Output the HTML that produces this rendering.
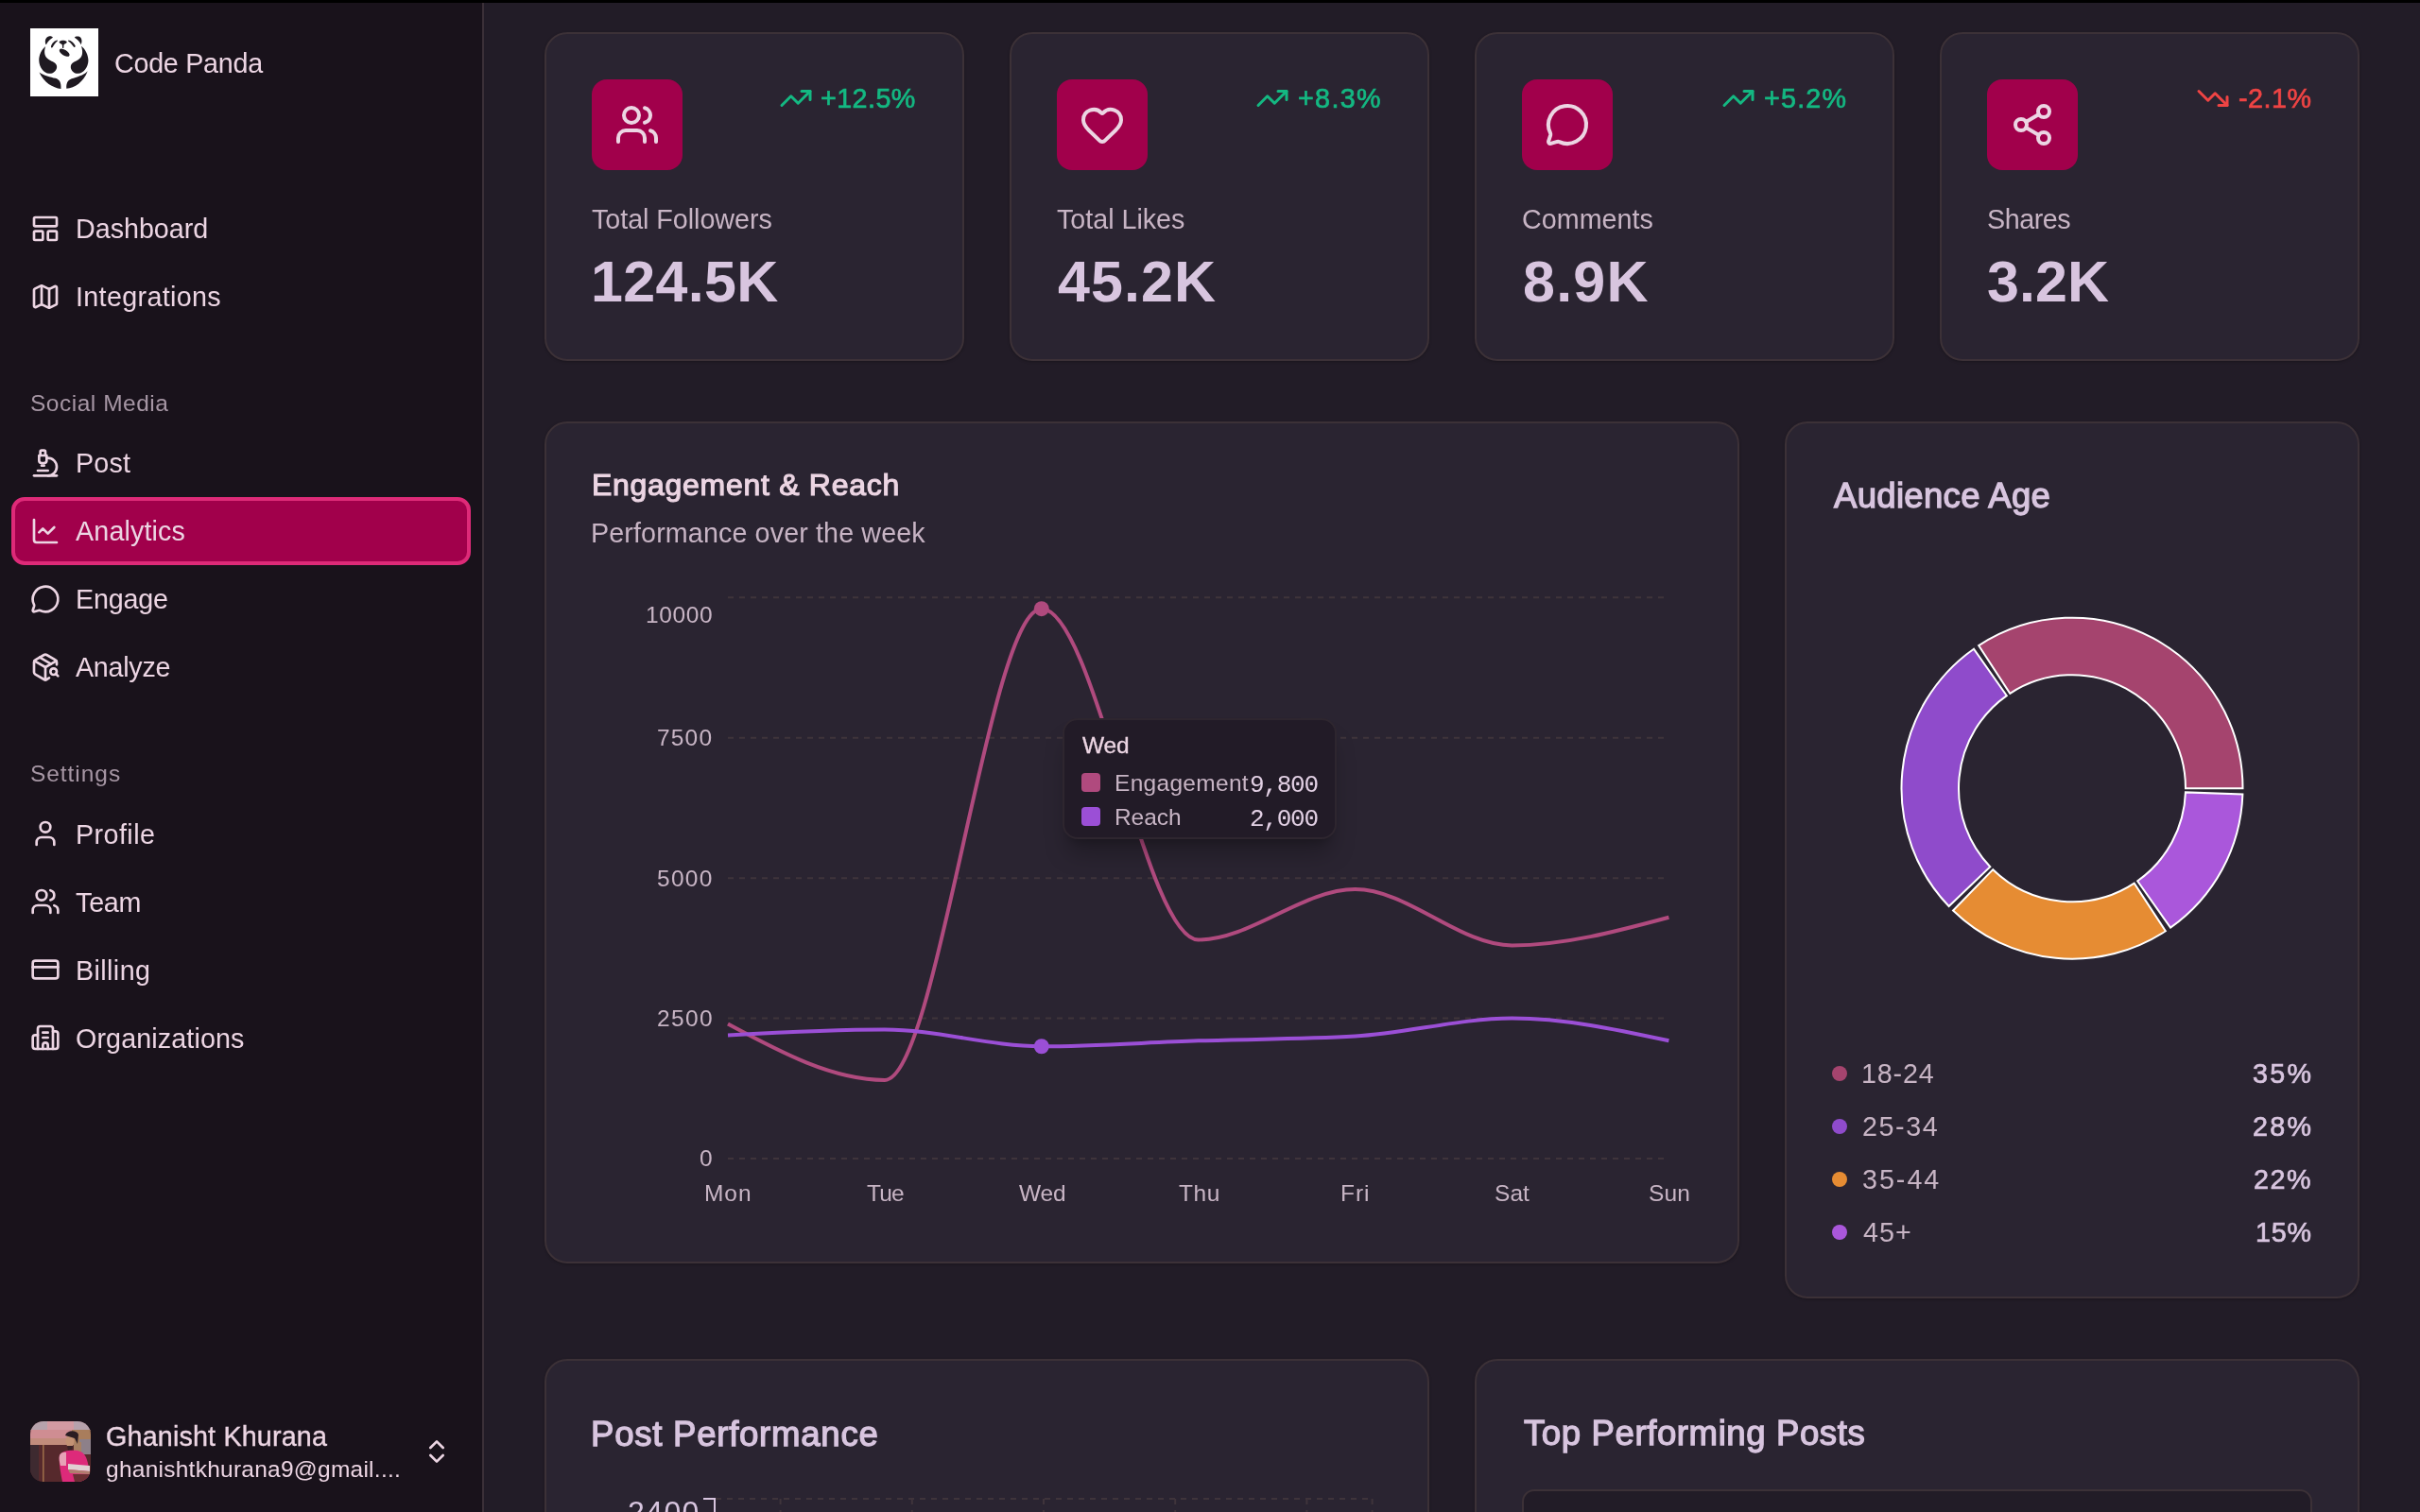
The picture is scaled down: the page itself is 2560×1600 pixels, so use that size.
<!DOCTYPE html><html lang="en"><head><meta charset="utf-8"><title>Analytics - Code Panda</title><style>
html,body{margin:0;padding:0;}
body{width:2560px;height:1600px;overflow:hidden;position:relative;background:#221c27;font-family:'Liberation Sans', Arial, sans-serif;}
.t{position:absolute;white-space:nowrap;will-change:transform;}
.b{position:absolute;}
.ic{position:absolute;overflow:visible;}
svg.abs{position:absolute;overflow:visible;}
@media (max-width:2000px){html{zoom:0.5;}}

</style></head><body>
<aside>
<div class="b" style="left:0px;top:0px;width:510px;height:1600px;background:#19121b;border-radius:0px;"></div>
<div class="b" style="left:510px;top:0px;width:2px;height:1600px;background:#3b3038;border-radius:0px;"></div>
<svg class="abs" style="left:32px;top:30px;width:72px;height:72px" viewBox="0 0 1512 1512"><rect width="1512" height="1512" fill="#ffffff"/><g fill="#1f1a21"><path d="M345,355 C318,290 338,200 410,180 C450,168 490,180 502,205 C440,240 385,300 355,362 Z"/><path d="M1128,360 C1160,290 1150,200 1075,180 C1035,170 995,180 983,205 C1045,240 1100,300 1128,360 Z"/><path d="M605,262 C540,270 482,330 462,398 C456,428 484,442 498,422 C522,370 560,318 608,280 Z"/><path d="M845,265 C905,272 962,322 1000,385 C1006,412 988,428 968,414 C930,360 890,312 845,288 Z"/><path d="M642,306 C642,278 700,268 728,268 C760,268 814,278 814,306 C814,332 772,346 746,360 L740,440 L716,440 L710,360 C686,346 642,332 642,306 Z"/><ellipse cx="760" cy="540" rx="128" ry="62" transform="rotate(32 760 540)"/><path d="M340,400 C250,470 190,600 195,720 C200,870 300,1000 420,1005 C530,1010 600,920 590,840 C580,770 490,740 420,700 C340,650 310,580 320,490 C325,450 335,420 340,400 Z"/><path d="M1135,395 C1230,470 1290,600 1290,720 C1285,870 1185,1000 1065,1005 C955,1010 890,920 900,840 C910,770 995,740 1065,700 C1145,650 1165,580 1155,490 C1150,450 1140,420 1135,395 Z"/><path d="M200,975 C300,1050 450,1080 560,1110 C650,1140 690,1200 682,1345 C500,1320 300,1200 200,975 Z"/><path d="M1275,950 C1180,1050 1030,1080 920,1120 C830,1150 795,1230 805,1340 C990,1320 1180,1200 1275,950 Z"/></g></svg>
<span class="t" style="left:120.50px;top:53px;font-size:28.7px;line-height:28.7px;color:#ecd5e3;font-weight:400;font-family:'Liberation Sans', Arial, sans-serif;letter-spacing:-0.261px;">Code Panda</span>
<nav>
<svg class="ic" style="left:32px;top:226.0px;width:32px;height:32px;" viewBox="0 0 24 24" fill="none" stroke="#ecd5e3" stroke-width="2" stroke-linecap="round" stroke-linejoin="round"><rect width="18" height="7" x="3" y="3" rx="1"/><rect width="7" height="7" x="3" y="14" rx="1"/><rect width="7" height="7" x="14" y="14" rx="1"/></svg>
<span class="t" style="left:80.00px;top:228px;font-size:28.7px;line-height:28.7px;color:#ecd5e3;font-weight:400;font-family:'Liberation Sans', Arial, sans-serif;letter-spacing:-0.011px;">Dashboard</span>
<svg class="ic" style="left:32px;top:298.0px;width:32px;height:32px;" viewBox="0 0 24 24" fill="none" stroke="#ecd5e3" stroke-width="2" stroke-linecap="round" stroke-linejoin="round"><path d="M14.106 5.553a2 2 0 0 0 1.788 0l3.659-1.83A1 1 0 0 1 21 4.619v12.764a1 1 0 0 1-.553.894l-4.553 2.277a2 2 0 0 1-1.788 0l-4.212-2.106a2 2 0 0 0-1.788 0l-3.659 1.83A1 1 0 0 1 3 19.381V6.618a1 1 0 0 1 .553-.894l4.553-2.277a2 2 0 0 1 1.788 0z"/><path d="M15 5.764v15"/><path d="M9 3.236v15"/></svg>
<span class="t" style="left:80.00px;top:300px;font-size:28.7px;line-height:28.7px;color:#ecd5e3;font-weight:400;font-family:'Liberation Sans', Arial, sans-serif;letter-spacing:0.340px;">Integrations</span>
<span class="t" style="left:31.70px;top:415px;font-size:24.5px;line-height:24.5px;color:#a696a4;font-weight:400;font-family:'Liberation Sans', Arial, sans-serif;letter-spacing:0.515px;">Social Media</span>
<svg class="ic" style="left:32px;top:473.8px;width:32px;height:32px;" viewBox="0 0 24 24" fill="none" stroke="#ecd5e3" stroke-width="2" stroke-linecap="round" stroke-linejoin="round"><path d="M6 18h8"/><path d="M3 22h18"/><path d="M14 22a7 7 0 1 0 0-14h-1"/><path d="M9 14h2"/><path d="M9 12a2 2 0 0 1-2-2V6h6v4a2 2 0 0 1-2 2Z"/><path d="M12 6V3a1 1 0 0 0-1-1H9a1 1 0 0 0-1 1v3"/></svg>
<span class="t" style="left:80.00px;top:476px;font-size:28.7px;line-height:28.7px;color:#ecd5e3;font-weight:400;font-family:'Liberation Sans', Arial, sans-serif;letter-spacing:0.189px;">Post</span>
<div class="b" style="left:12px;top:526px;width:486px;height:72px;background:#a1004b;border-radius:14px;border:4px solid #de2a78;box-sizing:border-box;"></div>
<svg class="ic" style="left:32px;top:545.8000000000001px;width:32px;height:32px;" viewBox="0 0 24 24" fill="none" stroke="#ecd5e3" stroke-width="2" stroke-linecap="round" stroke-linejoin="round"><path d="M3 3v16a2 2 0 0 0 2 2h16"/><path d="m19 9-5 5-4-4-3 3"/></svg>
<span class="t" style="left:80.00px;top:548px;font-size:28.7px;line-height:28.7px;color:#ecd5e3;font-weight:400;font-family:'Liberation Sans', Arial, sans-serif;letter-spacing:0.144px;">Analytics</span>
<svg class="ic" style="left:32px;top:617.8000000000001px;width:32px;height:32px;" viewBox="0 0 24 24" fill="none" stroke="#ecd5e3" stroke-width="2" stroke-linecap="round" stroke-linejoin="round"><path d="M2.992 16.342a2 2 0 0 1 .094 1.167l-1.065 3.29a1 1 0 0 0 1.236 1.168l3.413-.998a2 2 0 0 1 1.099.092 10 10 0 1 0-4.777-4.719"/></svg>
<span class="t" style="left:80.00px;top:620px;font-size:28.7px;line-height:28.7px;color:#ecd5e3;font-weight:400;font-family:'Liberation Sans', Arial, sans-serif;letter-spacing:-0.191px;">Engage</span>
<svg class="ic" style="left:32px;top:689.8000000000001px;width:32px;height:32px;" viewBox="0 0 24 24" fill="none" stroke="#ecd5e3" stroke-width="2" stroke-linecap="round" stroke-linejoin="round"><path d="M21 10V8a2 2 0 0 0-1-1.73l-7-4a2 2 0 0 0-2 0l-7 4A2 2 0 0 0 3 8v8a2 2 0 0 0 1 1.73l7 4a2 2 0 0 0 2 0l2-1.14"/><path d="m7.5 4.27 9 5.15"/><polyline points="3.29 7 12 12 20.71 7"/><line x1="12" x2="12" y1="22" y2="12"/><circle cx="18.5" cy="15.5" r="2.5"/><path d="M20.27 17.27 22 19"/></svg>
<span class="t" style="left:80.00px;top:692px;font-size:28.7px;line-height:28.7px;color:#ecd5e3;font-weight:400;font-family:'Liberation Sans', Arial, sans-serif;letter-spacing:-0.267px;">Analyze</span>
<span class="t" style="left:32.20px;top:807px;font-size:24.5px;line-height:24.5px;color:#a696a4;font-weight:400;font-family:'Liberation Sans', Arial, sans-serif;letter-spacing:0.946px;">Settings</span>
<svg class="ic" style="left:32px;top:866.4px;width:32px;height:32px;" viewBox="0 0 24 24" fill="none" stroke="#ecd5e3" stroke-width="2" stroke-linecap="round" stroke-linejoin="round"><path d="M19 21v-2a4 4 0 0 0-4-4H9a4 4 0 0 0-4 4v2"/><circle cx="12" cy="7" r="4"/></svg>
<span class="t" style="left:80.00px;top:869px;font-size:28.7px;line-height:28.7px;color:#ecd5e3;font-weight:400;font-family:'Liberation Sans', Arial, sans-serif;letter-spacing:0.440px;">Profile</span>
<svg class="ic" style="left:32px;top:938.4px;width:32px;height:32px;" viewBox="0 0 24 24" fill="none" stroke="#ecd5e3" stroke-width="2" stroke-linecap="round" stroke-linejoin="round"><path d="M16 21v-2a4 4 0 0 0-4-4H6a4 4 0 0 0-4 4v2"/><circle cx="9" cy="7" r="4"/><path d="M22 21v-2a4 4 0 0 0-3-3.87"/><path d="M16 3.13a4 4 0 0 1 0 7.75"/></svg>
<span class="t" style="left:80.00px;top:941px;font-size:28.7px;line-height:28.7px;color:#ecd5e3;font-weight:400;font-family:'Liberation Sans', Arial, sans-serif;letter-spacing:-0.217px;">Team</span>
<svg class="ic" style="left:32px;top:1010.4px;width:32px;height:32px;" viewBox="0 0 24 24" fill="none" stroke="#ecd5e3" stroke-width="2" stroke-linecap="round" stroke-linejoin="round"><rect width="20" height="14" x="2" y="5" rx="2"/><line x1="2" x2="22" y1="10" y2="10"/></svg>
<span class="t" style="left:80.00px;top:1013px;font-size:28.7px;line-height:28.7px;color:#ecd5e3;font-weight:400;font-family:'Liberation Sans', Arial, sans-serif;letter-spacing:0.403px;">Billing</span>
<svg class="ic" style="left:32px;top:1082.3999999999999px;width:32px;height:32px;" viewBox="0 0 24 24" fill="none" stroke="#ecd5e3" stroke-width="2" stroke-linecap="round" stroke-linejoin="round"><path d="M10 12h4"/><path d="M10 8h4"/><path d="M14 21v-3a2 2 0 0 0-4 0v3"/><path d="M6 10H4a2 2 0 0 0-2 2v7a2 2 0 0 0 2 2h16a2 2 0 0 0 2-2V9a2 2 0 0 0-2-2h-2"/><path d="M6 21V5a2 2 0 0 1 2-2h8a2 2 0 0 1 2 2v16"/></svg>
<span class="t" style="left:80.00px;top:1085px;font-size:28.7px;line-height:28.7px;color:#ecd5e3;font-weight:400;font-family:'Liberation Sans', Arial, sans-serif;letter-spacing:0.120px;">Organizations</span>
</nav>
<svg class="abs" style="left:32px;top:1504px;width:64px;height:64px" viewBox="0 0 64 64"><defs><clipPath id="av"><rect width="64" height="64" rx="14"/></clipPath></defs><g clip-path="url(#av)"><rect width="64" height="64" fill="#56292c"/><rect width="64" height="10" fill="#b6a2ac"/><rect x="18" y="0" width="28" height="10" fill="#d29aa2"/><rect x="0" y="9" width="46" height="10" fill="#cf8d92"/><rect x="0" y="18" width="46" height="7" fill="#c28c7c"/><rect x="44" y="9" width="20" height="13" fill="#a97d5c"/><rect x="52" y="19" width="12" height="16" fill="#8d8089"/><rect x="46" y="22" width="8" height="12" fill="#a88062"/><rect x="0" y="25" width="9" height="39" fill="#3e2a30"/><rect x="13" y="25" width="1.6" height="39" fill="#9a6a48"/><ellipse cx="42" cy="21" rx="4.6" ry="6.5" fill="#c39274"/><path d="M37,15 C39,9 49,9 51,14 L50,24 L47,18 Z" fill="#2b1d22"/><path d="M39,26 L45,26 L44,31 L40,31 Z" fill="#3a2226"/><path d="M31,36 C33,31 42,30 50,31 C58,33 62,38 63,64 L34,64 C32,54 30,44 31,36 Z" fill="#dd2a7a"/><path d="M31,36 C32,33 36,32 38,33 L38,47 L32,47 C31,43 30,39 31,36 Z" fill="#e6a2b6"/><path d="M40,45 L63,47 L63,53 L40,51 Z" fill="#e0d0d2"/><path d="M40,51 L63,53 L63,56 L42,55 Z" fill="#b07d6e"/><path d="M45,56 L64,56 L64,64 L47,64 Z" fill="#6a2f33"/></g></svg>
<span class="t" style="left:112.00px;top:1506px;font-size:28.7px;line-height:28.7px;color:#ecd5e3;font-weight:400;font-family:'Liberation Sans', Arial, sans-serif;letter-spacing:0.180px;-webkit-text-stroke:0.35px #ecd5e3;">Ghanisht Khurana</span>
<span class="t" style="left:112.00px;top:1543px;font-size:24.5px;line-height:24.5px;color:#ecd5e3;font-weight:400;font-family:'Liberation Sans', Arial, sans-serif;letter-spacing:0.255px;">ghanishtkhurana9@gmail....</span>
<svg class="ic" style="left:446px;top:1520px;width:32px;height:32px;" viewBox="0 0 24 24" fill="none" stroke="#ecd5e3" stroke-width="2" stroke-linecap="round" stroke-linejoin="round"><path d="m7 15 5 5 5-5"/><path d="m7 9 5-5 5 5"/></svg>
</aside>
<main>
<div class="b" style="left:0px;top:0px;width:2560px;height:3px;background:#000;border-radius:0px;"></div>
<section>
<div class="b" style="left:576px;top:34px;width:444px;height:348px;background:#2a2431;border-radius:24px;border:2px solid #3c3137;box-sizing:border-box;box-shadow:0 1px 3px rgba(0,0,0,0.25);"></div>
<div class="b" style="left:626px;top:84px;width:96px;height:96px;background:#a1004b;border-radius:16px;"></div>
<svg class="ic" style="left:650px;top:108px;width:48px;height:48px;" viewBox="0 0 24 24" fill="none" stroke="#ecd5e3" stroke-width="2" stroke-linecap="round" stroke-linejoin="round"><path d="M16 21v-2a4 4 0 0 0-4-4H6a4 4 0 0 0-4 4v2"/><circle cx="9" cy="7" r="4"/><path d="M22 21v-2a4 4 0 0 0-3-3.87"/><path d="M16 3.13a4 4 0 0 1 0 7.75"/></svg>
<svg class="ic" style="left:824.1px;top:86px;width:36px;height:36px;" viewBox="0 0 24 24" fill="none" stroke="#14b882" stroke-width="2" stroke-linecap="round" stroke-linejoin="round"><polyline points="22 7 13.5 15.5 8.5 10.5 2 17"/><polyline points="16 7 22 7 22 13"/></svg>
<span class="t" style="left:868.20px;top:90px;font-size:28.7px;line-height:28.7px;color:#14b882;font-weight:400;font-family:'Liberation Sans', Arial, sans-serif;letter-spacing:0.443px;-webkit-text-stroke:0.70px #14b882;">+12.5%</span>
<span class="t" style="left:626.00px;top:218px;font-size:28.7px;line-height:28.7px;color:#c7b4c4;font-weight:400;font-family:'Liberation Sans', Arial, sans-serif;letter-spacing:-0.034px;">Total Followers</span>
<span class="t" style="left:624.70px;top:268px;font-size:61px;line-height:61px;color:#d8c5df;font-weight:700;font-family:'Liberation Sans', Arial, sans-serif;letter-spacing:0.330px;">124.5K</span>
</section>
<section>
<div class="b" style="left:1068px;top:34px;width:444px;height:348px;background:#2a2431;border-radius:24px;border:2px solid #3c3137;box-sizing:border-box;box-shadow:0 1px 3px rgba(0,0,0,0.25);"></div>
<div class="b" style="left:1118px;top:84px;width:96px;height:96px;background:#a1004b;border-radius:16px;"></div>
<svg class="ic" style="left:1142px;top:108px;width:48px;height:48px;" viewBox="0 0 24 24" fill="none" stroke="#ecd5e3" stroke-width="2" stroke-linecap="round" stroke-linejoin="round"><path d="M2 9.5a5.5 5.5 0 0 1 9.591-3.676.56.56 0 0 0 .818 0A5.49 5.49 0 0 1 22 9.5c0 2.29-1.5 4-3 5.5l-5.492 5.313a2 2 0 0 1-3 .019L5 15c-1.5-1.5-3-3.2-3-5.5"/></svg>
<svg class="ic" style="left:1328.2px;top:86px;width:36px;height:36px;" viewBox="0 0 24 24" fill="none" stroke="#14b882" stroke-width="2" stroke-linecap="round" stroke-linejoin="round"><polyline points="22 7 13.5 15.5 8.5 10.5 2 17"/><polyline points="16 7 22 7 22 13"/></svg>
<span class="t" style="left:1373.20px;top:90px;font-size:28.7px;line-height:28.7px;color:#14b882;font-weight:400;font-family:'Liberation Sans', Arial, sans-serif;letter-spacing:1.342px;-webkit-text-stroke:0.70px #14b882;">+8.3%</span>
<span class="t" style="left:1118.00px;top:218px;font-size:28.7px;line-height:28.7px;color:#c7b4c4;font-weight:400;font-family:'Liberation Sans', Arial, sans-serif;letter-spacing:-0.019px;">Total Likes</span>
<span class="t" style="left:1119.10px;top:268px;font-size:61px;line-height:61px;color:#d8c5df;font-weight:700;font-family:'Liberation Sans', Arial, sans-serif;letter-spacing:1.069px;">45.2K</span>
</section>
<section>
<div class="b" style="left:1560px;top:34px;width:444px;height:348px;background:#2a2431;border-radius:24px;border:2px solid #3c3137;box-sizing:border-box;box-shadow:0 1px 3px rgba(0,0,0,0.25);"></div>
<div class="b" style="left:1610px;top:84px;width:96px;height:96px;background:#a1004b;border-radius:16px;"></div>
<svg class="ic" style="left:1634px;top:108px;width:48px;height:48px;" viewBox="0 0 24 24" fill="none" stroke="#ecd5e3" stroke-width="2" stroke-linecap="round" stroke-linejoin="round"><path d="M2.992 16.342a2 2 0 0 1 .094 1.167l-1.065 3.29a1 1 0 0 0 1.236 1.168l3.413-.998a2 2 0 0 1 1.099.092 10 10 0 1 0-4.777-4.719"/></svg>
<svg class="ic" style="left:1821.2px;top:86px;width:36px;height:36px;" viewBox="0 0 24 24" fill="none" stroke="#14b882" stroke-width="2" stroke-linecap="round" stroke-linejoin="round"><polyline points="22 7 13.5 15.5 8.5 10.5 2 17"/><polyline points="16 7 22 7 22 13"/></svg>
<span class="t" style="left:1865.70px;top:90px;font-size:28.7px;line-height:28.7px;color:#14b882;font-weight:400;font-family:'Liberation Sans', Arial, sans-serif;letter-spacing:1.217px;-webkit-text-stroke:0.70px #14b882;">+5.2%</span>
<span class="t" style="left:1610.00px;top:218px;font-size:28.7px;line-height:28.7px;color:#c7b4c4;font-weight:400;font-family:'Liberation Sans', Arial, sans-serif;letter-spacing:0.022px;">Comments</span>
<span class="t" style="left:1610.60px;top:268px;font-size:61px;line-height:61px;color:#d8c5df;font-weight:700;font-family:'Liberation Sans', Arial, sans-serif;letter-spacing:1.234px;">8.9K</span>
</section>
<section>
<div class="b" style="left:2052px;top:34px;width:444px;height:348px;background:#2a2431;border-radius:24px;border:2px solid #3c3137;box-sizing:border-box;box-shadow:0 1px 3px rgba(0,0,0,0.25);"></div>
<div class="b" style="left:2102px;top:84px;width:96px;height:96px;background:#a1004b;border-radius:16px;"></div>
<svg class="ic" style="left:2126px;top:108px;width:48px;height:48px;" viewBox="0 0 24 24" fill="none" stroke="#ecd5e3" stroke-width="2" stroke-linecap="round" stroke-linejoin="round"><circle cx="18" cy="5" r="3"/><circle cx="6" cy="12" r="3"/><circle cx="18" cy="19" r="3"/><line x1="8.59" x2="15.42" y1="13.51" y2="17.49"/><line x1="15.41" x2="8.59" y1="6.51" y2="10.49"/></svg>
<svg class="ic" style="left:2323.3px;top:86px;width:36px;height:36px;" viewBox="0 0 24 24" fill="none" stroke="#ef4444" stroke-width="2" stroke-linecap="round" stroke-linejoin="round"><polyline points="22 17 13.5 8.5 8.5 13.5 2 7"/><polyline points="16 17 22 17 22 11"/></svg>
<span class="t" style="left:2367.80px;top:90px;font-size:28.7px;line-height:28.7px;color:#ef4444;font-weight:400;font-family:'Liberation Sans', Arial, sans-serif;letter-spacing:0.492px;-webkit-text-stroke:0.70px #ef4444;">-2.1%</span>
<span class="t" style="left:2102.00px;top:218px;font-size:28.7px;line-height:28.7px;color:#c7b4c4;font-weight:400;font-family:'Liberation Sans', Arial, sans-serif;letter-spacing:-0.470px;">Shares</span>
<span class="t" style="left:2101.90px;top:268px;font-size:61px;line-height:61px;color:#d8c5df;font-weight:700;font-family:'Liberation Sans', Arial, sans-serif;letter-spacing:0.067px;">3.2K</span>
</section>
<section>
<div class="b" style="left:576px;top:446px;width:1264px;height:891px;background:#2a2431;border-radius:24px;border:2px solid #3c3137;box-sizing:border-box;box-shadow:0 1px 3px rgba(0,0,0,0.25);"></div>
<span class="t" style="left:625.50px;top:497px;font-size:32px;line-height:32px;color:#ecd5e3;font-weight:400;font-family:'Liberation Sans', Arial, sans-serif;letter-spacing:0.712px;-webkit-text-stroke:1.15px #ecd5e3;">Engagement &amp; Reach</span>
<span class="t" style="left:625.00px;top:550px;font-size:28.7px;line-height:28.7px;color:#c7b4c4;font-weight:400;font-family:'Liberation Sans', Arial, sans-serif;letter-spacing:0.119px;">Performance over the week</span>
<svg class="abs" style="left:0;top:0;width:2560px;height:1600px;pointer-events:none" viewBox="0 0 2560 1600"><line x1="770" x2="1766" y1="1226.00" y2="1226.00" stroke="#3f343b" stroke-width="2" stroke-dasharray="6 6"/><line x1="770" x2="1766" y1="1077.58" y2="1077.58" stroke="#3f343b" stroke-width="2" stroke-dasharray="6 6"/><line x1="770" x2="1766" y1="929.15" y2="929.15" stroke="#3f343b" stroke-width="2" stroke-dasharray="6 6"/><line x1="770" x2="1766" y1="780.73" y2="780.73" stroke="#3f343b" stroke-width="2" stroke-dasharray="6 6"/><line x1="770" x2="1766" y1="632.30" y2="632.30" stroke="#3f343b" stroke-width="2" stroke-dasharray="6 6"/><path d="M770.00,1083.51C825.30,1113.20,880.60,1142.88,935.90,1142.88C991.20,1142.88,1046.50,644.17,1101.80,644.17C1157.10,644.17,1212.40,994.46,1267.70,994.46C1323.00,994.46,1378.30,941.02,1433.60,941.02C1488.90,941.02,1544.20,1000.39,1599.50,1000.39C1654.80,1000.39,1710.10,985.55,1765.40,970.71" fill="none" stroke="#b04a7e" stroke-width="4"/><path d="M770.00,1095.39C825.30,1092.42,880.60,1089.45,935.90,1089.45C991.20,1089.45,1046.50,1107.26,1101.80,1107.26C1157.10,1107.26,1212.40,1103.10,1267.70,1101.32C1323.00,1099.54,1378.30,1099.74,1433.60,1096.57C1488.90,1093.41,1544.20,1077.58,1599.50,1077.58C1654.80,1077.58,1710.10,1089.45,1765.40,1101.32" fill="none" stroke="#9b4fd6" stroke-width="4"/><circle cx="1101.80" cy="644.17" r="8" fill="#b04a7e"/><circle cx="1101.80" cy="1107.26" r="8" fill="#9b4fd6"/></svg>
<span class="t" style="left:682.60px;top:639px;font-size:24.5px;line-height:24.5px;color:#c7b4c4;font-weight:400;font-family:'Liberation Sans', Arial, sans-serif;letter-spacing:0.649px;">10000</span>
<span class="t" style="left:695.30px;top:769px;font-size:24.5px;line-height:24.5px;color:#c7b4c4;font-weight:400;font-family:'Liberation Sans', Arial, sans-serif;letter-spacing:1.174px;">7500</span>
<span class="t" style="left:695.00px;top:918px;font-size:24.5px;line-height:24.5px;color:#c7b4c4;font-weight:400;font-family:'Liberation Sans', Arial, sans-serif;letter-spacing:1.274px;">5000</span>
<span class="t" style="left:694.60px;top:1066px;font-size:24.5px;line-height:24.5px;color:#c7b4c4;font-weight:400;font-family:'Liberation Sans', Arial, sans-serif;letter-spacing:1.408px;">2500</span>
<span class="t" style="left:739.70px;top:1214px;font-size:24.5px;line-height:24.5px;color:#c7b4c4;font-weight:400;font-family:'Liberation Sans', Arial, sans-serif;">0</span>
<span class="t" style="left:744.75px;top:1251px;font-size:24.5px;line-height:24.5px;color:#c7b4c4;font-weight:400;font-family:'Liberation Sans', Arial, sans-serif;letter-spacing:0.933px;">Mon</span>
<span class="t" style="left:916.75px;top:1251px;font-size:24.5px;line-height:24.5px;color:#c7b4c4;font-weight:400;font-family:'Liberation Sans', Arial, sans-serif;letter-spacing:-0.791px;">Tue</span>
<span class="t" style="left:1077.50px;top:1251px;font-size:24.5px;line-height:24.5px;color:#c7b4c4;font-weight:400;font-family:'Liberation Sans', Arial, sans-serif;letter-spacing:-0.154px;">Wed</span>
<span class="t" style="left:1247.15px;top:1251px;font-size:24.5px;line-height:24.5px;color:#c7b4c4;font-weight:400;font-family:'Liberation Sans', Arial, sans-serif;letter-spacing:0.554px;">Thu</span>
<span class="t" style="left:1418.35px;top:1251px;font-size:24.5px;line-height:24.5px;color:#c7b4c4;font-weight:400;font-family:'Liberation Sans', Arial, sans-serif;letter-spacing:0.988px;">Fri</span>
<span class="t" style="left:1581.15px;top:1251px;font-size:24.5px;line-height:24.5px;color:#c7b4c4;font-weight:400;font-family:'Liberation Sans', Arial, sans-serif;letter-spacing:0.066px;">Sat</span>
<span class="t" style="left:1743.80px;top:1251px;font-size:24.5px;line-height:24.5px;color:#c7b4c4;font-weight:400;font-family:'Liberation Sans', Arial, sans-serif;letter-spacing:0.116px;">Sun</span>
<div class="b" style="left:1124px;top:760px;width:290px;height:128px;background:#221b27;border-radius:16px;border:2px solid #2e262f;box-sizing:border-box;box-shadow:0 20px 25px -5px rgba(0,0,0,0.25),0 8px 10px -6px rgba(0,0,0,0.2);"></div>
<span class="t" style="left:1145.30px;top:777px;font-size:24.5px;line-height:24.5px;color:#ecd5e3;font-weight:400;font-family:'Liberation Sans', Arial, sans-serif;letter-spacing:-0.204px;-webkit-text-stroke:0.3px #ecd5e3;">Wed</span>
<div class="b" style="left:1144px;top:818px;width:20px;height:20px;background:#b04a7e;border-radius:4px;"></div>
<div class="b" style="left:1144px;top:854px;width:20px;height:20px;background:#9b4fd6;border-radius:4px;"></div>
<span class="t" style="left:1179.00px;top:817px;font-size:24.5px;line-height:24.5px;color:#c7b4c4;font-weight:400;font-family:'Liberation Sans', Arial, sans-serif;letter-spacing:0.297px;">Engagement</span>
<span class="t" style="left:1179.00px;top:853px;font-size:24.5px;line-height:24.5px;color:#c7b4c4;font-weight:400;font-family:'Liberation Sans', Arial, sans-serif;letter-spacing:-0.074px;">Reach</span>
<span class="t" style="left:1321.60px;top:818px;font-size:26px;line-height:26px;color:#e2d0e4;font-weight:400;font-family:'Liberation Mono', 'DejaVu Sans Mono', monospace;letter-spacing:-1.253px;">9,800</span>
<span class="t" style="left:1321.60px;top:854px;font-size:26px;line-height:26px;color:#e2d0e4;font-weight:400;font-family:'Liberation Mono', 'DejaVu Sans Mono', monospace;letter-spacing:-1.253px;">2,000</span>
</section>
<section>
<div class="b" style="left:1888px;top:446px;width:608px;height:928px;background:#2a2431;border-radius:24px;border:2px solid #3c3137;box-sizing:border-box;box-shadow:0 1px 3px rgba(0,0,0,0.25);"></div>
<span class="t" style="left:1939.60px;top:507px;font-size:36.6px;line-height:36.6px;color:#d8c5df;font-weight:400;font-family:'Liberation Sans', Arial, sans-serif;letter-spacing:0.288px;-webkit-text-stroke:1.30px #d8c5df;">Audience Age</span>
<svg class="abs" style="left:0;top:0;width:2560px;height:1600px;pointer-events:none" viewBox="0 0 2560 1600"><path d="M2372.50,834.20A180.5,180.5 0 0 0 2093.16,683.16L2126.29,733.79A120.0,120.0 0 0 1 2312.00,834.20Z" fill="#a5446e" stroke="#ffffff" stroke-width="2"/><path d="M2087.95,686.71A180.5,180.5 0 0 0 2061.64,959.04L2105.33,917.20A120.0,120.0 0 0 1 2122.83,736.14Z" fill="#8f4bcb" stroke="#ffffff" stroke-width="2"/><path d="M2066.07,963.51A180.5,180.5 0 0 0 2290.84,985.24L2257.71,934.61A120.0,120.0 0 0 1 2108.28,920.17Z" fill="#e68c33" stroke="#ffffff" stroke-width="2"/><path d="M2296.05,981.69A180.5,180.5 0 0 0 2372.39,840.50L2311.93,838.39A120.0,120.0 0 0 1 2261.17,932.26Z" fill="#aa57db" stroke="#ffffff" stroke-width="2"/></svg>
<div class="b" style="left:1938px;top:1128.3px;width:16px;height:16px;background:#a5446e;border-radius:8px;"></div>
<span class="t" style="left:1969.30px;top:1122px;font-size:28.7px;line-height:28.7px;color:#c7b4c4;font-weight:400;font-family:'Liberation Sans', Arial, sans-serif;letter-spacing:0.821px;">18-24</span>
<span class="t" style="left:2382.90px;top:1122px;font-size:28.7px;line-height:28.7px;color:#d8c5df;font-weight:400;font-family:'Liberation Sans', Arial, sans-serif;letter-spacing:2.245px;-webkit-text-stroke:0.70px #d8c5df;">35%</span>
<div class="b" style="left:1938px;top:1184.3px;width:16px;height:16px;background:#8f4bcb;border-radius:8px;"></div>
<span class="t" style="left:1970.30px;top:1178px;font-size:28.7px;line-height:28.7px;color:#c7b4c4;font-weight:400;font-family:'Liberation Sans', Arial, sans-serif;letter-spacing:1.571px;">25-34</span>
<span class="t" style="left:2382.90px;top:1178px;font-size:28.7px;line-height:28.7px;color:#d8c5df;font-weight:400;font-family:'Liberation Sans', Arial, sans-serif;letter-spacing:2.245px;-webkit-text-stroke:0.70px #d8c5df;">28%</span>
<div class="b" style="left:1938px;top:1240.3px;width:16px;height:16px;background:#e68c33;border-radius:8px;"></div>
<span class="t" style="left:1970.30px;top:1234px;font-size:28.7px;line-height:28.7px;color:#c7b4c4;font-weight:400;font-family:'Liberation Sans', Arial, sans-serif;letter-spacing:1.971px;">35-44</span>
<span class="t" style="left:2384.20px;top:1234px;font-size:28.7px;line-height:28.7px;color:#d8c5df;font-weight:400;font-family:'Liberation Sans', Arial, sans-serif;letter-spacing:1.595px;-webkit-text-stroke:0.70px #d8c5df;">22%</span>
<div class="b" style="left:1938px;top:1296.3px;width:16px;height:16px;background:#aa57db;border-radius:8px;"></div>
<span class="t" style="left:1971.30px;top:1290px;font-size:28.7px;line-height:28.7px;color:#c7b4c4;font-weight:400;font-family:'Liberation Sans', Arial, sans-serif;letter-spacing:1.045px;">45+</span>
<span class="t" style="left:2385.90px;top:1290px;font-size:28.7px;line-height:28.7px;color:#d8c5df;font-weight:400;font-family:'Liberation Sans', Arial, sans-serif;letter-spacing:0.745px;-webkit-text-stroke:0.70px #d8c5df;">15%</span>
</section>
<section>
<div class="b" style="left:576px;top:1438px;width:936px;height:400px;background:#2a2431;border-radius:24px;border:2px solid #3c3137;box-sizing:border-box;box-shadow:0 1px 3px rgba(0,0,0,0.25);"></div>
<span class="t" style="left:625.00px;top:1500px;font-size:36.6px;line-height:36.6px;color:#d8c5df;font-weight:400;font-family:'Liberation Sans', Arial, sans-serif;letter-spacing:0.733px;-webkit-text-stroke:1.30px #d8c5df;">Post Performance</span>
<svg class="abs" style="left:0;top:0;width:2560px;height:1600px;pointer-events:none" viewBox="0 0 2560 1600"><line x1="757" x2="1452" y1="1586" y2="1586" stroke="#3f343b" stroke-width="2" stroke-dasharray="6 6"/><line x1="825.6" x2="825.6" y1="1586" y2="1600" stroke="#3f343b" stroke-width="2" stroke-dasharray="6 6"/><line x1="964.8" x2="964.8" y1="1586" y2="1600" stroke="#3f343b" stroke-width="2" stroke-dasharray="6 6"/><line x1="1104" x2="1104" y1="1586" y2="1600" stroke="#3f343b" stroke-width="2" stroke-dasharray="6 6"/><line x1="1243.2" x2="1243.2" y1="1586" y2="1600" stroke="#3f343b" stroke-width="2" stroke-dasharray="6 6"/><line x1="1382.4" x2="1382.4" y1="1586" y2="1600" stroke="#3f343b" stroke-width="2" stroke-dasharray="6 6"/><line x1="1451.6" x2="1451.6" y1="1586" y2="1600" stroke="#3f343b" stroke-width="2" stroke-dasharray="6 6"/><line x1="744" x2="756" y1="1586" y2="1586" stroke="#d8c5df" stroke-width="2"/><line x1="756" x2="756" y1="1585" y2="1600" stroke="#d8c5df" stroke-width="2"/></svg>
<span class="t" style="left:663.90px;top:1584px;font-size:32px;line-height:32px;color:#d8c5df;font-weight:400;font-family:'Liberation Sans', Arial, sans-serif;letter-spacing:1.403px;">2400</span>
</section>
<section>
<div class="b" style="left:1560px;top:1438px;width:936px;height:400px;background:#2a2431;border-radius:24px;border:2px solid #3c3137;box-sizing:border-box;box-shadow:0 1px 3px rgba(0,0,0,0.25);"></div>
<span class="t" style="left:1611.60px;top:1499px;font-size:36.6px;line-height:36.6px;color:#d8c5df;font-weight:400;font-family:'Liberation Sans', Arial, sans-serif;letter-spacing:0.585px;-webkit-text-stroke:1.30px #d8c5df;">Top Performing Posts</span>
<div class="b" style="left:1610px;top:1576px;width:836px;height:200px;background:#221c27;border-radius:13px;border:2px solid #3c3137;box-sizing:border-box;"></div>
</section>
</main></body></html>
